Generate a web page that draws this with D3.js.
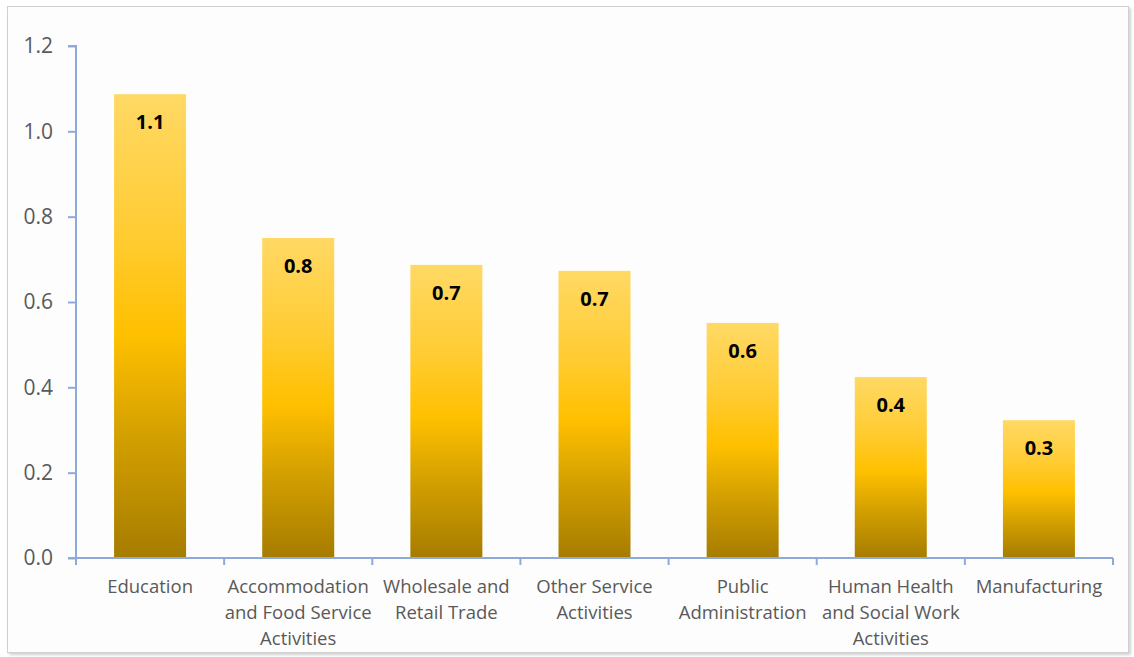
<!DOCTYPE html>
<html>
<head>
<meta charset="utf-8">
<script src="https://cdn.jsdelivr.net/npm/d3@7"></script>
<style>
  html, body { margin: 0; padding: 0; background: #ffffff; }
  svg { display: block; }
</style>
</head>
<body>
<svg id="chart" width="1134" height="657"></svg>
<script>
// Sectors and their values
const categories = [
  ["Education"],
  ["Accommodation", "and Food Service", "Activities"],
  ["Wholesale and", "Retail Trade"],
  ["Other Service", "Activities"],
  ["Public", "Administration"],
  ["Human Health", "and Social Work", "Activities"],
  ["Manufacturing"]
];
const values = [1.087, 0.750, 0.687, 0.673, 0.551, 0.424, 0.323];
const yTicks = [0.0, 0.2, 0.4, 0.6, 0.8, 1.0, 1.2];

const svg = d3.select("#chart");
const plot = { left: 76, right: 1113, top: 46, bottom: 558 };
const font = "'Open Sans', 'Noto Sans', sans-serif";

// frame with a soft shadow
const defs = svg.append("defs");
const shadow = defs.append("filter").attr("id", "shadow")
  .attr("x", "-2%").attr("y", "-2%").attr("width", "104%").attr("height", "104%");
shadow.append("feDropShadow").attr("dx", 2).attr("dy", 2).attr("stdDeviation", 1.5)
  .attr("flood-color", "#000").attr("flood-opacity", 0.18);

svg.append("rect")
  .attr("x", 7.5).attr("y", 6.5).attr("width", 1121).attr("height", 646)
  .attr("fill", "#fdfdfd").attr("stroke", "#d0d0d0").attr("stroke-width", 1)
  .attr("filter", "url(#shadow)");

// bar fill: light gold at top, deep amber at bottom
const grad = defs.append("linearGradient").attr("id", "gold")
  .attr("x1", 0).attr("y1", 0).attr("x2", 0).attr("y2", 1);
[["0%", "#ffd965"], ["30%", "#ffcc33"], ["52%", "#ffc000"], ["75%", "#d19e00"], ["100%", "#a67c00"]]
  .forEach(([o, c]) => grad.append("stop").attr("offset", o).attr("stop-color", c));

const x = d3.scaleBand()
  .domain(d3.range(categories.length))
  .range([plot.left, plot.right])
  .paddingInner(0.514).paddingOuter(0.257);

const y = d3.scaleLinear().domain([0, 1.2]).range([plot.bottom, plot.top]);

// bars
svg.append("g").selectAll("rect")
  .data(values)
  .join("rect")
  .attr("x", (d, i) => x(i))
  .attr("y", d => y(d))
  .attr("width", x.bandwidth())
  .attr("height", d => y(0) - y(d))
  .attr("fill", "url(#gold)");

// value labels inside the top of each bar
svg.append("g").selectAll("text")
  .data(values)
  .join("text")
  .attr("x", (d, i) => x(i) + x.bandwidth() / 2)
  .attr("y", d => y(d) + 35)
  .attr("text-anchor", "middle")
  .attr("font-family", font)
  .attr("font-weight", "bold")
  .attr("font-size", 20)
  .attr("fill", "#000")
  .text(d => d.toFixed(1));

const axisColor = "#8eaadb";

// y axis
const yAxis = svg.append("g")
  .attr("transform", `translate(${plot.left},0)`)
  .call(d3.axisLeft(y).tickValues(yTicks).tickFormat(d3.format(".1f")).tickSize(8).tickPadding(15));
yAxis.select(".domain").attr("stroke", axisColor).attr("stroke-width", 2)
  .attr("d", `M-8,${plot.top}H0V${plot.bottom}`);
yAxis.selectAll(".tick line").attr("stroke", axisColor).attr("stroke-width", 2);
yAxis.selectAll(".tick text")
  .attr("font-family", font).attr("font-size", 21).attr("fill", "#595959");

// x axis with ticks at category boundaries
const xg = svg.append("g").attr("transform", `translate(0,${plot.bottom})`);
xg.append("line")
  .attr("x1", plot.left - 8).attr("x2", plot.right)
  .attr("stroke", axisColor).attr("stroke-width", 2);
const bounds = d3.range(categories.length + 1).map(i => plot.left + i * (plot.right - plot.left) / categories.length);
xg.selectAll("line.tk")
  .data(bounds)
  .join("line")
  .attr("class", "tk")
  .attr("x1", d => d).attr("x2", d => d)
  .attr("y1", 0).attr("y2", 7)
  .attr("stroke", axisColor).attr("stroke-width", 2);

// category labels
const lab = xg.selectAll("text.cat")
  .data(categories)
  .join("text")
  .attr("class", "cat")
  .attr("text-anchor", "middle")
  .attr("font-family", font)
  .attr("font-size", 18.5)
  .attr("fill", "#595959");
lab.each(function(lines, i) {
  const t = d3.select(this);
  lines.forEach((ln, k) => {
    t.append("tspan")
      .attr("x", x(i) + x.bandwidth() / 2)
      .attr("y", 35 + k * 26)
      .text(ln);
  });
});
</script>
</body>
</html>
